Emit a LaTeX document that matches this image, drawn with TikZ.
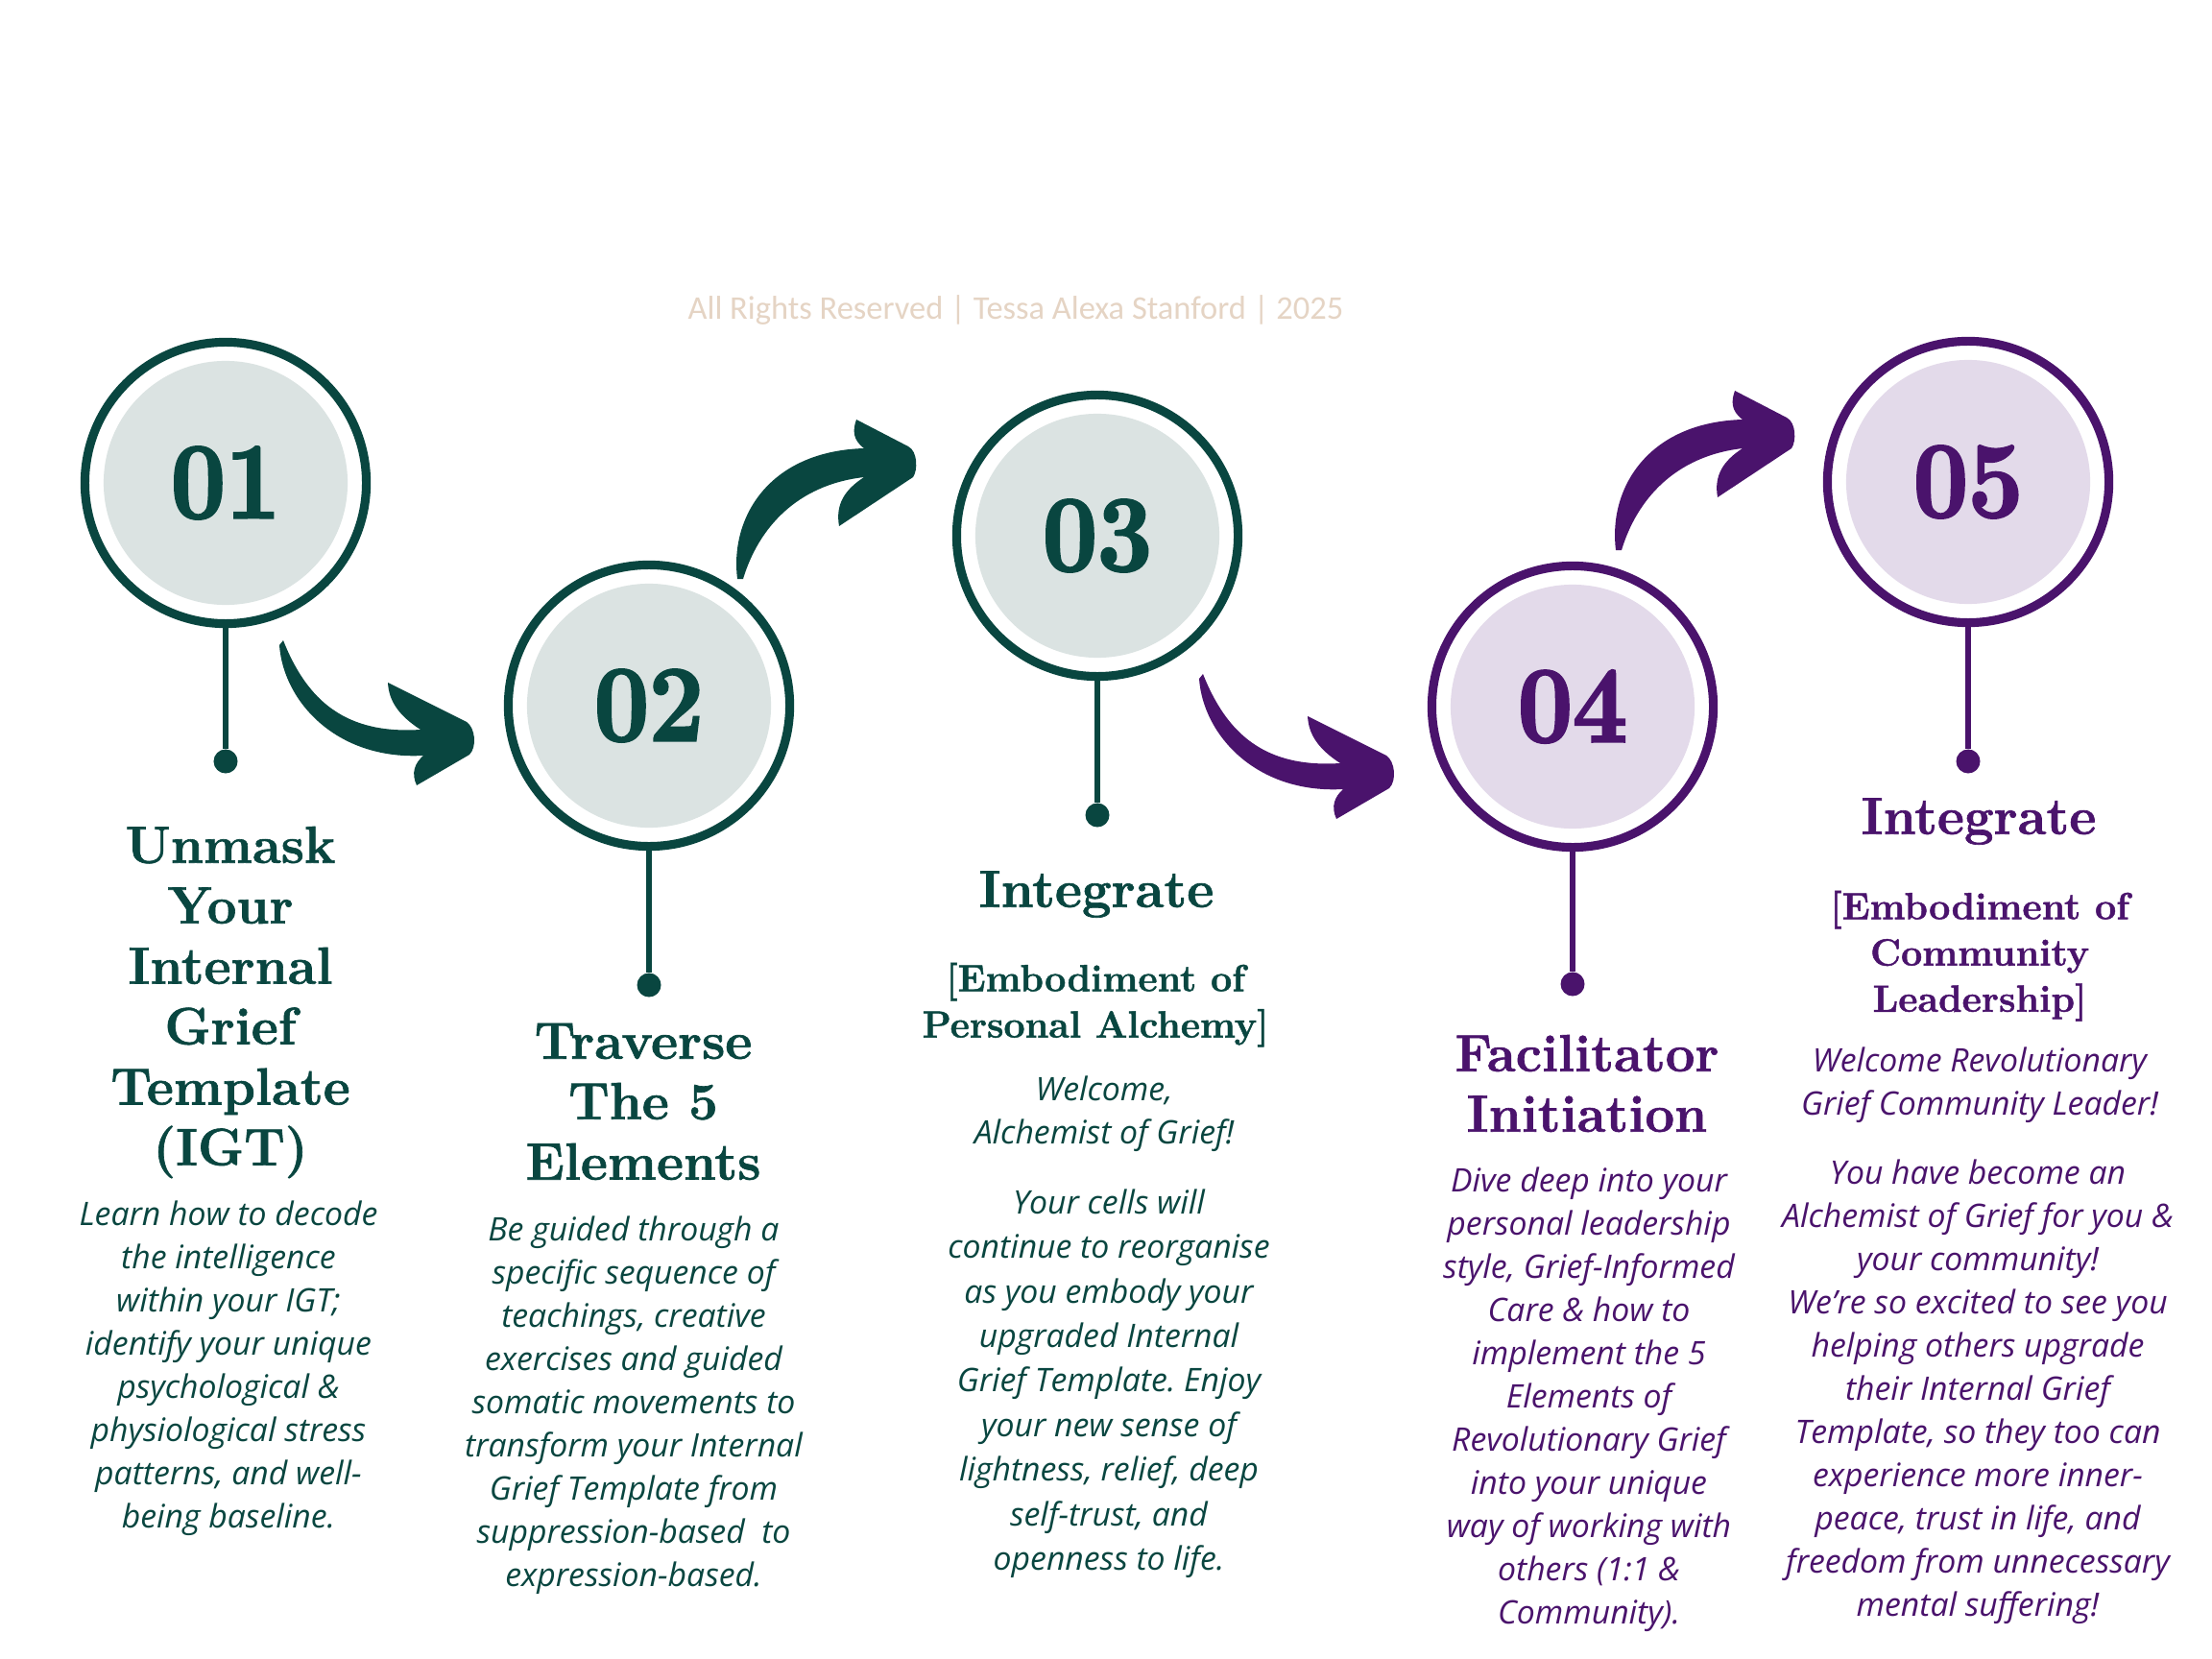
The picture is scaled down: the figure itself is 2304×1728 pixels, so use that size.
\documentclass[tikz,border=0pt]{standalone}
\usepackage{fontspec}
\usepackage{tikz}
\setmainfont{Latin Modern Roman}
\newfontfamily\headfont[FakeBold=1.2]{Latin Modern Roman}
\newfontfamily\numfont[FakeStretch=0.9,FakeBold=2.5]{Latin Modern Roman}
\newfontfamily\bodyfont{Open Sans}
\newfontfamily\notefont{Carlito}
\definecolor{igtgreen}{HTML}{094640}
\definecolor{igtgreenlt}{HTML}{DBE3E2}
\definecolor{igtpurple}{HTML}{4A136C}
\definecolor{igtpurplelt}{HTML}{E3DAEA}
\definecolor{igtbeige}{HTML}{E5D4C4}
\frenchspacing

\begin{document}
\begin{tikzpicture}[x=0.01cm,y=-0.01cm,
    stage/.style 2 args={circle,minimum size=2.93cm,inner sep=0pt,line width=2.6pt,
      fill=white,draw=#1,text=#1,font=\numfont\bfseries\fontsize{32}{32}\selectfont,
      path picture={\fill[#2] (path picture bounding box.center) circle (1.27cm);}},
    pin/.style={circle,fill=#1,minimum size=0.25cm,inner sep=0pt},
    stem/.style={draw=#1,line width=1.45pt},
    title/.style={anchor=north,align=center,inner sep=0pt,text=#1,
      font=\headfont\bfseries\fontsize{15.5}{17.9}\selectfont},
    subtitle/.style={anchor=north,align=center,inner sep=0pt,text=#1,
      font=\headfont\bfseries\fontsize{11.2}{13.7}\selectfont},
    blurb/.style={anchor=north,align=center,inner sep=0pt,text=#1,
      font=\bodyfont\itshape\fontsize{9.6}{12.8}\selectfont}]
  \fill[white] (0,0) rectangle (2304,1728);
  \useasboundingbox (0,0) rectangle (2304,1728);

  % copyright line
  \node[anchor=base,inner sep=0pt,text=igtbeige,font=\notefont\fontsize{9.8}{11}\selectfont]
    (note) at (1058,333) {All Rights Reserved | Tessa Alexa Stanford | 2025};

  % stages
  \node[stage={igtgreen}{igtgreenlt}] (c1) at (235,503) {01};
  \node[stage={igtgreen}{igtgreenlt}] (c2) at (676,735) {02};
  \node[stage={igtgreen}{igtgreenlt}] (c3) at (1143,558) {03};
  \node[stage={igtpurple}{igtpurplelt}] (c4) at (1638,736) {04};
  \node[stage={igtpurple}{igtpurplelt}] (c5) at (2050,502) {05};

  \node[pin=igtgreen] (d1) at (235,793) {};
  \node[pin=igtgreen] (d2) at (676,1026) {};
  \node[pin=igtgreen] (d3) at (1143,849) {};
  \node[pin=igtpurple] (d4) at (1638,1025) {};
  \node[pin=igtpurple] (d5) at (2050,793) {};
  \draw[stem=igtgreen] (c1) -- (d1);
  \draw[stem=igtgreen] (c2) -- (d2);
  \draw[stem=igtgreen] (c3) -- (d3);
  \draw[stem=igtpurple] (c4) -- (d4);
  \draw[stem=igtpurple] (c5) -- (d5);

  % brush arrows
  \fill[igtgreen] (295,667) .. controls (320,730) and (360,765) .. (438,760)
    .. controls (415,745) and (405,730) .. (404,711)
    -- (486,752) .. controls (495,758) and (497,778) .. (489,786)
    -- (434,818) .. controls (428,805) and (432,795) .. (441,787)
    .. controls (350,792) and (295,730) .. (291,672) -- cycle;
  \fill[igtpurple,shift={(958,35)}] (295,667) .. controls (320,730) and (360,765) .. (438,760)
    .. controls (415,745) and (405,730) .. (404,711)
    -- (486,752) .. controls (495,758) and (497,778) .. (489,786)
    -- (434,818) .. controls (428,805) and (432,795) .. (441,787)
    .. controls (350,792) and (295,730) .. (291,672) -- cycle;
  \fill[igtgreen] (768,603) .. controls (760,540) and (800,470) .. (900,467)
    .. controls (888,458) and (888,448) .. (892,437)
    -- (946,465) .. controls (956,470) and (956,490) .. (951,497)
    -- (874,548) .. controls (870,525) and (880,510) .. (900,497)
    .. controls (830,505) and (790,550) .. (774,603) -- cycle;
  \fill[igtpurple,shift={(915,-30)}] (768,603) .. controls (760,540) and (800,470) .. (900,467)
    .. controls (888,458) and (888,448) .. (892,437)
    -- (946,465) .. controls (956,470) and (956,490) .. (951,497)
    -- (874,548) .. controls (870,525) and (880,510) .. (900,497)
    .. controls (830,505) and (790,550) .. (774,603) -- cycle;

  % column 1
  \node[title=igtgreen] (h1) at (240,854)
    {\strut Unmask\\Your\\Internal\\Grief\\Template\\(IGT)};
  \node[blurb=igtgreen] (b1) at (238,1244)
    {\strut Learn how to decode\\the intelligence\\within your IGT;\\identify your unique\\psychological \&\\physiological stress\\patterns, and well-\\being baseline.};

  % column 2
  \node[title=igtgreen] (h2) at (670,1058) {\strut Traverse\\The 5\\Elements};
  \node[blurb=igtgreen] (b2) at (660,1260)
    {\strut Be guided through a\\specific sequence of\\teachings, creative\\exercises and guided\\somatic movements to\\transform your Internal\\Grief Template from\\suppression-based\ \ to\\expression-based.};

  % column 3
  \node[title=igtgreen] (h3) at (1142,900) {\strut Integrate};
  \node[subtitle=igtgreen] (s3) at (1141,998) {\strut [Embodiment of\\Personal Alchemy]};
  \node[blurb=igtgreen] (w3) at (1150,1114) {\strut Welcome,\\Alchemist of Grief!};
  \node[blurb=igtgreen,font=\bodyfont\itshape\fontsize{9.6}{13.2}\selectfont] (b3) at (1155,1231)
    {\strut Your cells will\\continue to reorganise\\as you embody your\\upgraded Internal\\Grief Template. Enjoy\\your new sense of\\lightness, relief, deep\\self-trust, and\\openness to life.};

  % column 4
  \node[title=igtpurple] (h4) at (1653,1071) {\strut Facilitator\\Initiation};
  \node[blurb=igtpurple] (b4) at (1655,1209)
    {\strut Dive deep into your\\personal leadership\\style, Grief-Informed\\Care \& how to\\implement the 5\\Elements of\\Revolutionary Grief\\into your unique\\way of working with\\others (1:1 \&\\Community).};

  % column 5
  \node[title=igtpurple] (h5) at (2061,824) {\strut Integrate};
  \node[subtitle=igtpurple] (s5) at (2062,923) {\strut [Embodiment of\\Community\\Leadership]};
  \node[blurb=igtpurple] (w5) at (2062,1084) {\strut Welcome Revolutionary\\Grief Community Leader!};
  \node[blurb=igtpurple] (b5) at (2060,1201)
    {\strut You have become an\\Alchemist of Grief for you \&\\your community!\\We’re so excited to see you\\helping others upgrade\\their Internal Grief\\Template, so they too can\\experience more inner-\\peace, trust in life, and\\freedom from unnecessary\\mental suffering!};
\end{tikzpicture}
\end{document}
